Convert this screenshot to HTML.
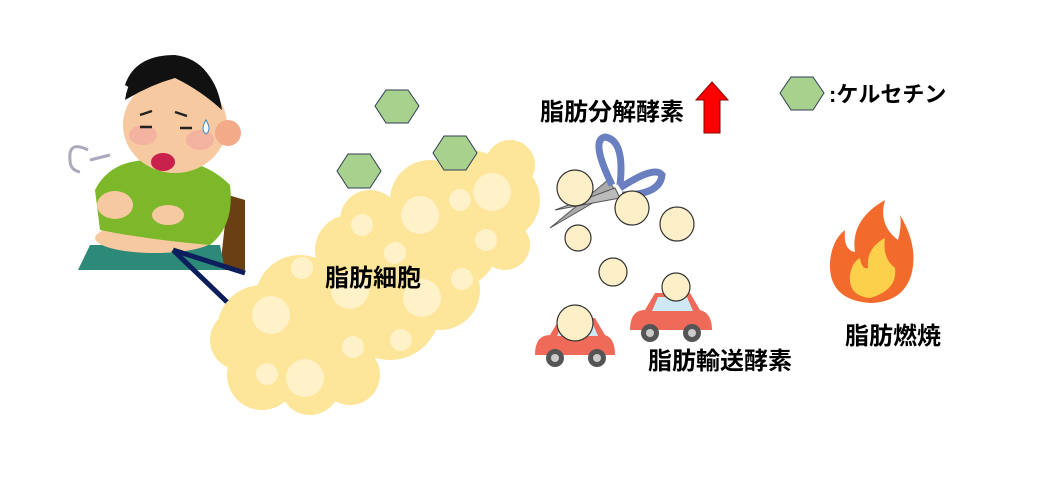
<!DOCTYPE html>
<html><head><meta charset="utf-8"><style>
html,body{margin:0;padding:0;background:#fff;width:1047px;height:497px;overflow:hidden}
text{font-family:"Liberation Sans","Noto Sans CJK JP",sans-serif;font-weight:bold;fill:#000}
</style></head><body>
<svg width="1047" height="497" viewBox="0 0 1047 497" xmlns="http://www.w3.org/2000/svg">
<!-- fat cloud -->
<g fill="#fde59a">
<circle cx="262" cy="330" r="45"/><circle cx="262" cy="375" r="35"/><circle cx="310" cy="385" r="30"/>
<circle cx="350" cy="375" r="30"/><circle cx="300" cy="300" r="45"/><circle cx="340" cy="320" r="45"/>
<circle cx="390" cy="310" r="50"/><circle cx="400" cy="250" r="45"/><circle cx="350" cy="250" r="35"/>
<circle cx="450" cy="240" r="50"/><circle cx="470" cy="190" r="40"/><circle cx="500" cy="200" r="40"/>
<circle cx="510" cy="165" r="25"/><circle cx="440" cy="290" r="40"/><circle cx="295" cy="330" r="40"/>
<circle cx="240" cy="340" r="30"/><circle cx="430" cy="200" r="40"/><circle cx="370" cy="220" r="30"/>
<circle cx="505" cy="245" r="25"/>
</g>
<g fill="#fff1c8">
<circle cx="271" cy="315" r="19"/><circle cx="305" cy="378" r="19"/><circle cx="267" cy="374" r="11"/>
<circle cx="353" cy="347" r="11"/><circle cx="401" cy="340" r="11"/><circle cx="302" cy="268" r="11"/>
<circle cx="362" cy="225" r="11"/><circle cx="420" cy="215" r="19"/><circle cx="460" cy="200" r="11"/>
<circle cx="492" cy="192" r="19"/><circle cx="486" cy="240" r="11"/><circle cx="462" cy="279" r="11"/>
<circle cx="422" cy="298" r="19"/><circle cx="350" cy="290" r="19"/><circle cx="395" cy="253" r="11"/>
</g>
<!-- boy -->
<path d="M228 195 L245 200 L245 270 L220 270 Z" fill="#6b3f14"/>
<path d="M78 270 L90 245 L220 245 L225 270 Z" fill="#2e8a78"/>
<ellipse cx="155" cy="238" rx="60" ry="15" fill="#f6c9a0"/>
<path d="M95 190 Q110 160 150 160 Q200 155 230 185 Q235 225 210 245 Q150 240 100 230 Z" fill="#7cb82a"/>
<ellipse cx="115" cy="205" rx="18" ry="14" fill="#f6c9a0"/>
<ellipse cx="168" cy="215" rx="16" ry="10" fill="#f6c9a0"/>
<path d="M125 85 Q135 55 175 55 Q215 60 222 115 L150 100 Z" fill="#111"/>
<ellipse cx="175" cy="125" rx="52" ry="48" fill="#f6c9a0"/>
<path d="M125 100 Q130 62 175 58 Q215 62 222 110 Q200 90 175 78 Q150 85 125 100Z" fill="#111"/>
<circle cx="228" cy="133" r="13" fill="#f2aa88"/>
<ellipse cx="143" cy="135" rx="14" ry="10" fill="#f4a8a0" opacity=".7"/>
<ellipse cx="200" cy="140" rx="14" ry="10" fill="#f4a8a0" opacity=".7"/>
<ellipse cx="163" cy="162" rx="12" ry="9" fill="#c8214c"/>
<path d="M140 115 l12 -4 M175 112 l12 4 M140 127 h12 M180 128 h12" stroke="#222" stroke-width="2.5"/>
<path d="M206 120 q-6 10 0 14 q6 -4 0 -14z" fill="#fff" stroke="#3a86c8"/>
<path d="M88 150 q-20 -10 -18 10 q0 10 10 12" stroke="#aab" stroke-width="3" fill="none"/>
<path d="M90 160 l20 -5" stroke="#aab" stroke-width="3"/>
<line x1="173" y1="250" x2="245" y2="273" stroke="#0c1f5c" stroke-width="5"/>
<line x1="173" y1="250" x2="227" y2="302" stroke="#0c1f5c" stroke-width="5"/>
<!-- hexagons -->
<g fill="#a9d18e" stroke="#2f3e55" stroke-width="1">
<polygon points="375,106 386,90 408,90 419,106 408,123 386,123"/>
<polygon points="337,171 348,154 370,154 381,171 370,188 348,188"/>
<polygon points="433,153 444,136 466,136 477,153 466,170 444,170"/>
<polygon points="780,93 791,77 813,77 824,93 813,110 791,110"/>
</g>
<text x="829" y="102" font-size="22">:ケルセチン</text>
<text x="325" y="286" font-size="24">脂肪細胞</text>
<text x="540" y="120" font-size="24">脂肪分解酵素</text>
<text x="648" y="369" font-size="24">脂肪輸送酵素</text>
<text x="845" y="344" font-size="24">脂肪燃焼</text>
<!-- red arrow -->
<path d="M712 82 L728 100 L720 100 L720 133 L704 133 L704 100 L696 100 Z" fill="#ff0000" stroke="#800" stroke-width="1"/>
<!-- scissors -->
<g>
<path d="M550 228 L615 190 L608 180 Z" fill="#aaa" stroke="#555"/>
<path d="M555 210 L620 198 L615 188 Z" fill="#bbb" stroke="#555"/>
<path d="M612 185 Q590 140 605 137 Q625 140 620 185" fill="none" stroke="#6a7fc0" stroke-width="7"/>
<path d="M622 195 Q660 195 662 175 Q655 165 620 188" fill="none" stroke="#6a7fc0" stroke-width="7"/>
</g>
<!-- cars -->
<g>
<path d="M535 355 Q535 335 550 335 L560 318 L595 318 L605 335 Q615 338 615 355 Z" fill="#f06a5a"/>
<path d="M563 322 L592 322 L598 336 L557 336Z" fill="#cfe8f5"/>
<circle cx="555" cy="358" r="9" fill="#555"/><circle cx="597" cy="358" r="9" fill="#555"/>
<circle cx="555" cy="358" r="4" fill="#ccc"/><circle cx="597" cy="358" r="4" fill="#ccc"/>
<path d="M630 330 Q630 310 645 310 L655 293 L690 293 L700 310 Q712 313 712 330 Z" fill="#f06a5a"/>
<path d="M658 297 L687 297 L693 311 L652 311Z" fill="#cfe8f5"/>
<circle cx="650" cy="333" r="9" fill="#555"/><circle cx="692" cy="333" r="9" fill="#555"/>
<circle cx="650" cy="333" r="4" fill="#ccc"/><circle cx="692" cy="333" r="4" fill="#ccc"/>
</g>
<!-- fat droplets -->
<g fill="#fdefc8" stroke="#333" stroke-width="1.2">
<circle cx="575" cy="188" r="18"/><circle cx="632" cy="208" r="17"/><circle cx="677" cy="224" r="17"/>
<circle cx="578" cy="238" r="13"/><circle cx="613" cy="272" r="14"/><circle cx="676" cy="287" r="14"/>
<circle cx="575" cy="323" r="18"/>
</g>
<!-- flame -->
<path d="M870 303 Q828 300 830 262 Q832 240 845 230 Q843 250 855 252 Q850 220 885 200 Q878 225 898 240 Q902 225 900 215 Q918 245 912 272 Q905 302 870 303Z" fill="#f26b2c"/>
<path d="M870 298 Q848 296 850 275 Q852 262 860 258 Q862 270 868 268 Q866 248 885 238 Q882 258 895 268 Q898 290 870 298Z" fill="#fcd04a"/>
</svg>
</body></html>
